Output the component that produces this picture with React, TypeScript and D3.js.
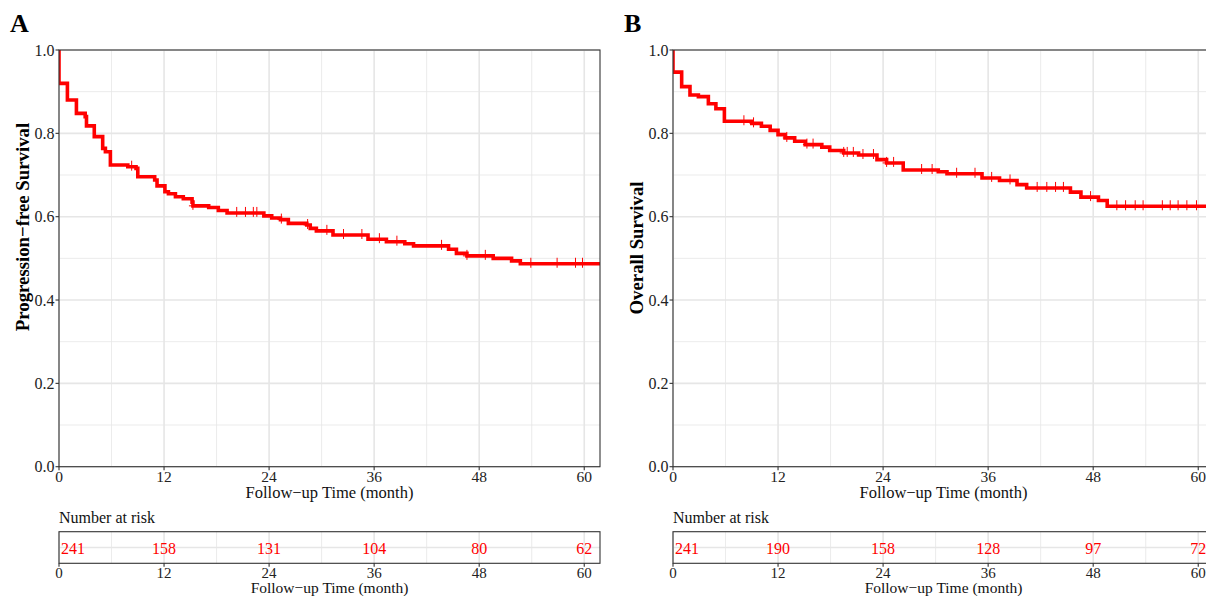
import React from 'react';
import * as d3 from 'd3';

// axis ticks
const timeTicks = [0, 12, 24, 36, 48, 60];
const timeMinor = [6, 18, 30, 42, 54];
const survTicks = [0, 0.2, 0.4, 0.6, 0.8, 1.0];
const survMinor = [0.1, 0.3, 0.5, 0.7, 0.9];

// panel A: progression-free survival (step times and survival after each step)
const pfsTimes = [0, 0.96, 1.99, 2.99, 3.14, 4.03, 4.99, 5.3, 5.87, 7.86, 8.8, 9.0, 10.93, 11.2, 12.1, 12.5, 13.3, 14.2, 15.2, 15.3, 17.1, 18.2, 19.2, 23.4, 24.3, 25.3, 26.2, 28.3, 28.7, 29.4, 31.3, 35.3, 37.4, 39.5, 40.5, 44.5, 45.4, 46.6, 49.6, 51.7, 52.7];
const pfsSurv = [0.92, 0.88, 0.848, 0.84, 0.818, 0.792, 0.764, 0.756, 0.724, 0.72, 0.716, 0.696, 0.688, 0.674, 0.66, 0.655, 0.648, 0.643, 0.635, 0.626, 0.622, 0.615, 0.609, 0.602, 0.597, 0.593, 0.584, 0.58, 0.572, 0.566, 0.556, 0.546, 0.54, 0.535, 0.53, 0.522, 0.512, 0.506, 0.5, 0.494, 0.487];
const pfsCensor = [8.3, 15.3, 20.3, 21.3, 22.2, 22.6, 25.4, 28.4, 30.6, 32.5, 34.6, 36.6, 38.6, 43.7, 46.6, 48.7, 53.9, 56.9, 59.0, 59.8];
const pfsRisk = [241, 158, 131, 104, 80, 62];

// panel B: overall survival
const osTimes = [0, 0.99, 1.94, 2.9, 4.04, 4.9, 5.87, 9.0, 10.1, 11.1, 12.0, 12.8, 13.9, 15.1, 17.0, 17.9, 19.5, 21.2, 23.3, 24.4, 26.3, 30.3, 31.3, 35.3, 37.3, 39.3, 40.4, 45.4, 46.6, 48.6, 49.6];
const osSurv = [0.947, 0.912, 0.892, 0.888, 0.871, 0.859, 0.829, 0.824, 0.817, 0.807, 0.797, 0.789, 0.781, 0.773, 0.767, 0.759, 0.753, 0.748, 0.737, 0.729, 0.712, 0.708, 0.703, 0.693, 0.687, 0.677, 0.669, 0.659, 0.647, 0.639, 0.625];
const osCensor = [8.1, 9.2, 13.0, 15.3, 16.0, 19.5, 19.9, 20.6, 21.7, 22.9, 24.4, 25.2, 28.4, 29.6, 32.4, 34.5, 36.4, 38.5, 41.6, 42.7, 43.7, 44.6, 47.7, 50.7, 51.7, 52.8, 53.7, 55.9, 56.8, 57.7, 58.7, 59.8];
const osRisk = [241, 190, 158, 128, 97, 72];

const tMax = 61.8;
const FONT = '"Liberation Serif", "Times New Roman", serif';
const RED = '#ff0000';
const DARK = '#333333';
const GRID = '#e6e6e6';

type PanelProps = {
  left: number;
  letter: string;
  yTitle: string;
  titleY: number;
  times: number[];
  surv: number[];
  censor: number[];
  risk: number[];
};

const KMPanel = ({ left, letter, yTitle, titleY, times, surv, censor, risk }: PanelProps) => {
  const width = 541;
  const top = 50;
  const bottom = 466.7;
  const riskTop = 531.7;
  const riskBottom = 563.3;

  const x = d3.scaleLinear().domain([0, tMax]).range([left, left + width]);
  const y = d3.scaleLinear().domain([0, 1]).range([bottom, top]);

  const pts: [number, number][] = [[0, 1], ...times.map((t, i) => [t, surv[i]] as [number, number])];
  pts.push([tMax, surv[surv.length - 1]]);
  const line = d3.line<[number, number]>()
    .x(d => x(d[0]))
    .y(d => y(d[1]))
    .curve(d3.curveStepAfter);

  // survival value at a given time, for placing censor marks
  const survAt = (t: number) => {
    let s = 1;
    times.forEach((tt, i) => { if (tt <= t) s = surv[i]; });
    return s;
  };

  const clipId = 'clip-' + letter;
  const riskMid = (riskTop + riskBottom) / 2;

  return (
    <g>
      <defs>
        <clipPath id={clipId}>
          <rect x={left} y={top - 3} width={width} height={bottom - top + 6} />
        </clipPath>
      </defs>
      <text x={left - 49} y={32} fontFamily={FONT} fontWeight="bold" fontSize={26}>{letter}</text>

      {/* grid */}
      {survMinor.map(v => (
        <line key={'hm' + v} x1={left} x2={left + width} y1={y(v)} y2={y(v)} stroke={GRID} strokeWidth={0.8} />
      ))}
      {timeMinor.map(v => (
        <line key={'vm' + v} x1={x(v)} x2={x(v)} y1={top} y2={bottom} stroke={GRID} strokeWidth={0.8} />
      ))}
      {survTicks.map(v => (
        <line key={'h' + v} x1={left} x2={left + width} y1={y(v)} y2={y(v)} stroke={GRID} strokeWidth={1.6} />
      ))}
      {timeTicks.map(v => (
        <line key={'v' + v} x1={x(v)} x2={x(v)} y1={top} y2={bottom} stroke={GRID} strokeWidth={1.6} />
      ))}

      {/* curve and censor marks */}
      <g clipPath={`url(#${clipId})`}>
        <path d={line(pts) || ''} fill="none" stroke={RED} strokeWidth={3.6} />
        {censor.map((t, i) => (
          <g key={'c' + i} stroke={RED} strokeWidth={1}>
            <line x1={x(t)} x2={x(t)} y1={y(survAt(t)) - 6} y2={y(survAt(t)) + 4} />
            <line x1={x(t) - 4} x2={x(t) + 4} y1={y(survAt(t))} y2={y(survAt(t))} />
          </g>
        ))}
      </g>

      <rect x={left} y={top} width={width} height={bottom - top} fill="none" stroke={DARK} strokeWidth={1.1} />

      {/* y axis */}
      {survTicks.map(v => (
        <g key={'yt' + v}>
          <line x1={left - 3.5} x2={left} y1={y(v)} y2={y(v)} stroke={DARK} strokeWidth={1.1} />
          <text x={left - 4.5} y={y(v) + 5.5} textAnchor="end" fontFamily={FONT} fontSize={16} fill="#222">{v.toFixed(1)}</text>
        </g>
      ))}
      <text transform={`translate(${left - 30},${titleY}) rotate(-90)`} textAnchor="middle" fontFamily={FONT} fontWeight="bold" fontSize={18.8}>{yTitle}</text>

      {/* x axis */}
      {timeTicks.map(v => (
        <g key={'xt' + v}>
          <line x1={x(v)} x2={x(v)} y1={bottom} y2={bottom + 3.5} stroke={DARK} strokeWidth={1.1} />
          <text x={x(v)} y={bottom + 14.8} textAnchor="middle" fontFamily={FONT} fontSize={15.5} fill="#222">{v}</text>
        </g>
      ))}
      <text x={left + width / 2} y={bottom + 31.5} textAnchor="middle" fontFamily={FONT} fontSize={16.5} fill="#111">Follow−up Time (month)</text>

      {/* risk table */}
      <text x={left} y={523} fontFamily={FONT} fontSize={16} fill="#111">Number at risk</text>
      <line x1={left} x2={left + width} y1={riskMid} y2={riskMid} stroke={GRID} strokeWidth={1.6} />
      {timeMinor.map(v => (
        <line key={'rm' + v} x1={x(v)} x2={x(v)} y1={riskTop} y2={riskBottom} stroke={GRID} strokeWidth={0.8} />
      ))}
      {timeTicks.map(v => (
        <line key={'rv' + v} x1={x(v)} x2={x(v)} y1={riskTop} y2={riskBottom} stroke={GRID} strokeWidth={1.6} />
      ))}
      <rect x={left} y={riskTop} width={width} height={riskBottom - riskTop} fill="none" stroke={DARK} strokeWidth={1.1} />
      {risk.map((n, i) => (
        <text key={'r' + i} x={i === 0 ? x(timeTicks[i]) + 2 : x(timeTicks[i])} y={riskMid + 6} textAnchor={i === 0 ? 'start' : 'middle'} fontFamily={FONT} fontSize={16} fill={RED}>{n}</text>
      ))}
      {timeTicks.map(v => (
        <g key={'rt' + v}>
          <line x1={x(v)} x2={x(v)} y1={riskBottom} y2={riskBottom + 3.5} stroke={DARK} strokeWidth={1.1} />
          <text x={x(v)} y={riskBottom + 14.5} textAnchor="middle" fontFamily={FONT} fontSize={15} fill="#222">{v}</text>
        </g>
      ))}
      <text x={left + width / 2} y={riskBottom + 29.3} textAnchor="middle" fontFamily={FONT} fontSize={15.5} fill="#111">Follow−up Time (month)</text>
    </g>
  );
};

export default function App() {
  return (
    <svg width={1206} height={596} style={{ position: 'absolute', left: 0, top: 0, background: '#fff' }}>
      <rect width={1206} height={596} fill="#fff" />
      <KMPanel left={59} letter="A" yTitle="Progression−free Survival" titleY={227} times={pfsTimes} surv={pfsSurv} censor={pfsCensor} risk={pfsRisk} />
      <KMPanel left={673} letter="B" yTitle="Overall Survival" titleY={248} times={osTimes} surv={osSurv} censor={osCensor} risk={osRisk} />
    </svg>
  );
}
